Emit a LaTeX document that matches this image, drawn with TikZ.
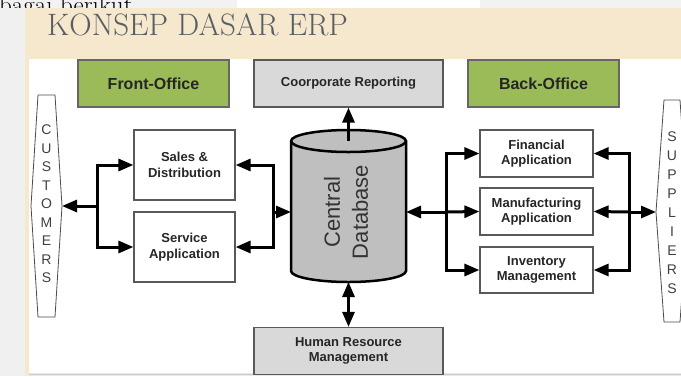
\documentclass[tikz,border=0pt]{standalone}
\usepackage{fontspec}
\newfontfamily\arialfont{Liberation Sans}
\usetikzlibrary{arrows.meta}
\definecolor{beige}{HTML}{F6E8CD}
\definecolor{officegreen}{HTML}{9BBB59}
\definecolor{boxgray}{HTML}{D9D9D9}
\definecolor{dbgray}{HTML}{BFBFBF}
\definecolor{titlegray}{HTML}{595E66}

\begin{document}
\begin{tikzpicture}[x=1pt, y=-1pt,
	box/.style={draw=black!65, line width=1.2pt, fill=white, align=center, inner sep=0pt,
		font=\arialfont\bfseries\fontsize{13}{15.5}\selectfont, text=black!85},
	headbox/.style={box, fill=officegreen, draw=black!60, minimum width=151pt, minimum height=47pt,
		font=\arialfont\bfseries\fontsize{16}{18}\selectfont},
	graybox/.style={box, fill=boxgray, minimum width=189pt, minimum height=47pt},
	side/.style={draw=black!70, line width=0.8pt, fill=white},
	letters/.style={align=center, inner sep=0pt, text=black!75},
	link/.style={line width=3pt, -{Triangle[length=15pt,width=12pt]}},
	link2/.style={line width=3pt, {Triangle[length=15pt,width=12pt]}-{Triangle[length=15pt,width=12pt]}}]
		\useasboundingbox (0,0) rectangle (681,376);
		\clip (0,0) rectangle (681,376);
		% slide behind the diagram
		\fill[black!5] (0,0) rectangle (681,376);
		\fill[white] (237,0) rectangle (480,8);
		\node[anchor=base west, inner sep=0pt, font=\fontsize{25}{25}\selectfont] (intro) at (-1,13) {bagai berikut.};
		\fill[black!6] (0,8) rectangle (25,376);
		\fill[beige] (25,8) rectangle (681,376);
		\fill[white] (29,59) rectangle (681,373);
		\draw[black!20, line width=1pt] (29,374) -- (681,374);
		\node[anchor=base west, inner sep=0pt, font=\fontsize{31}{31}\selectfont, text=titlegray] (title) at (47,35) {KONSEP DASAR ERP};

		% top and bottom row
		\node[headbox] (front) at (153.5,83.5) {Front-Office};
		\node[graybox] (cr) at (348.5,83.5) {Coorporate Reporting};
		\node[headbox] (back) at (543.5,83.5) {Back-Office};
		\node[graybox] (hrm) at (348.5,351) {Human Resource\\Management};

		% customers and suppliers
		\draw[side] (38,95) -- (55,95) -- (62,206) -- (55,317) -- (38,317) -- (31,206) -- cycle;
		\coordinate (custtip) at (62,206);
		\node[letters, font=\arialfont\fontsize{14}{18.5}\selectfont] (cust) at (46.5,204) {C\\U\\S\\T\\O\\M\\E\\R\\S};
		\draw[side] (664,100) -- (680,100) -- (688,212) -- (680,322) -- (664,322) -- (656,212) -- cycle;
		\coordinate (supptip) at (656,212);
		\node[letters, font=\arialfont\fontsize{14}{19}\selectfont] (supp) at (672,213) {S\\U\\P\\P\\L\\I\\E\\R\\S};

		% front office applications
		\node[box, minimum width=101pt, minimum height=70pt] (sales) at (184.5,165) {Sales \&\\Distribution};
		\node[box, minimum width=101pt, minimum height=70pt] (service) at (184.5,247) {Service\\Application};

		% back office applications
		\node[box, minimum width=113pt, minimum height=47pt] (fin) at (536.5,153.5) {Financial\\Application};
		\node[box, minimum width=113pt, minimum height=47pt] (manu) at (536.5,211.5) {Manufacturing\\Application};
		\node[box, minimum width=113pt, minimum height=46pt] (inv) at (536.5,270) {Inventory\\Management};

		% central database
		\draw[line width=2.5pt, fill=dbgray] (291,141) -- (291,271)
			arc[start angle=180, end angle=0, x radius=57.5, y radius=11] -- (406,141)
			arc[start angle=0, end angle=-180, x radius=57.5, y radius=11] -- cycle;
		\draw[line width=2.5pt] (291,141) arc[start angle=180, end angle=0, x radius=57.5, y radius=11];
		\node[minimum width=115pt, minimum height=152pt, inner sep=0pt, outer sep=0pt] (db) at (348.5,206) {};
		\node[rotate=90, align=center, inner sep=0pt, text=black!80,
			font=\arialfont\fontsize{22}{28}\selectfont] (dblabel) at (346,212) {Central\\Database};
		\coordinate (dbtop) at (348.5,141);

		% connectors
		\coordinate (jl) at (97,206);
		\coordinate (jr) at (273,212);
		\coordinate (jb) at (446,212);
		\coordinate (js) at (629,212);
		\draw[link] (jl) -- (custtip);
		\draw[link] (jl) |- (sales.west);
		\draw[link] (jl) |- (service.west);
		\draw[link] (jr) |- (sales.east);
		\draw[link] (jr) |- (service.east);
		\draw[link] (jr) -- (jr -| db.west);
		\draw[link] (dbtop) -- (cr.south);
		\draw[link2] (db.south) -- (hrm.north);
		\draw[link] (jb) -- (jb -| db.east);
		\draw[link] (jb) |- (fin.west);
		\draw[link] (jb) -- (manu.west);
		\draw[link] (jb) |- (inv.west);
		\draw[link] (js) |- (fin.east);
		\draw[link] (js) -- (manu.east);
		\draw[link] (js) |- (inv.east);
		\draw[link] (js) -- (supptip);
\end{tikzpicture}
\end{document}
